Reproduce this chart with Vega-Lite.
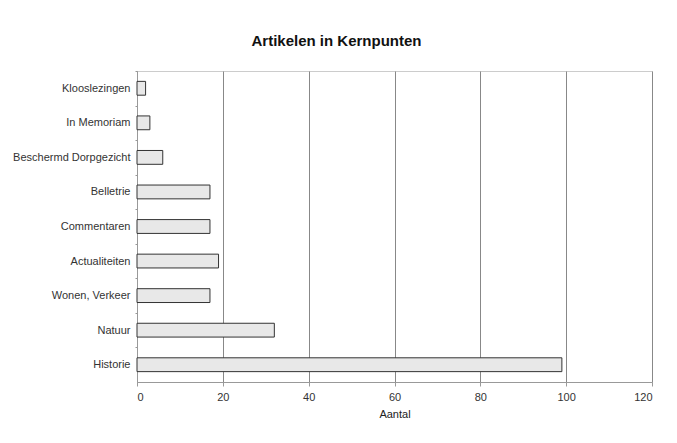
{
  "$schema": "https://vega.github.io/schema/vega-lite/v6.json",
  "autosize": "none",
  "width": 515,
  "height": 311,
  "padding": {"left": 137, "top": 71, "right": 25, "bottom": 61},
  "background": "white",
  "title": {
    "text": "Artikelen in Kernpunten",
    "font": "Liberation Sans",
    "fontSize": 15,
    "fontWeight": "bold",
    "color": "#111",
    "anchor": "middle",
    "dx": -58,
    "offset": 22
  },
  "data": {
    "values": [
      {"categorie": "Klooslezingen", "aantal": 2},
      {"categorie": "In Memoriam", "aantal": 3},
      {"categorie": "Beschermd Dorpgezicht", "aantal": 6},
      {"categorie": "Belletrie", "aantal": 17},
      {"categorie": "Commentaren", "aantal": 17},
      {"categorie": "Actualiteiten", "aantal": 19},
      {"categorie": "Wonen, Verkeer", "aantal": 17},
      {"categorie": "Natuur", "aantal": 32},
      {"categorie": "Historie", "aantal": 99}
    ]
  },
  "mark": {"type": "bar", "fill": "#e8e8e8", "stroke": "#333333", "strokeWidth": 1},
  "encoding": {
    "y": {
      "field": "categorie",
      "type": "nominal",
      "sort": null,
      "scale": {"paddingInner": 0.6, "paddingOuter": 0.3},
      "axis": {
        "title": null,
        "domainColor": "#999",
        "tickColor": "#999",
        "tickSize": 2,
        "tickOffset": -17.3,
        "labelOffset": 17.3,
        "labelPadding": 5,
        "labelFont": "Liberation Sans",
        "labelFontSize": 11,
        "labelColor": "#333",
        "labelLimit": 200
      }
    },
    "x": {
      "field": "aantal",
      "type": "quantitative",
      "scale": {"domain": [0, 120], "nice": false},
      "axis": {
        "title": "Aantal",
        "values": [0, 20, 40, 60, 80, 100, 120],
        "grid": true,
        "gridColor": "#888",
        "gridOpacity": 1,
        "domainColor": "#999",
        "tickColor": "#999",
        "tickSize": 4,
        "labelPadding": 5,
        "labelFont": "Liberation Sans",
        "labelFontSize": 11,
        "labelColor": "#333",
        "titleFont": "Liberation Sans",
        "titleFontSize": 11,
        "titleFontWeight": "normal",
        "titleColor": "#222",
        "titlePadding": 6
      }
    }
  },
  "config": {
    "view": {"stroke": "#cccccc", "strokeWidth": 1}
  }
}
